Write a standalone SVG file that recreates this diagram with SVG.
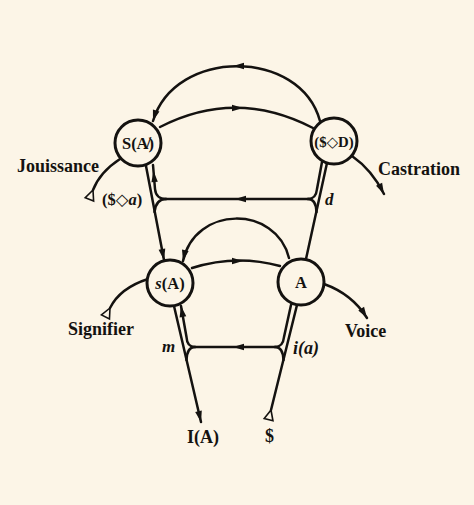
<svg xmlns="http://www.w3.org/2000/svg" xmlns:xlink="http://www.w3.org/1999/xlink" width="474" height="505" viewBox="0 0 474 505">
<style>
.ln{fill:none;stroke:#141210;stroke-width:2.5;stroke-linecap:round}
.nd{fill:#FCF5E7;stroke:#141210;stroke-width:3}
.nl{font-family:"Liberation Serif","DejaVu Serif",serif;font-weight:bold;font-size:16.5px;fill:#141210;text-anchor:middle}
.lb{font-family:"Liberation Serif","DejaVu Serif",serif;font-weight:bold;font-size:18px;fill:#141210}
.it{font-style:italic}
.tri{fill:#FCF5E7;stroke:#141210;stroke-width:1.6;stroke-linejoin:miter}
.ah{fill:#141210}
</style>
<defs>
<marker id="arr" viewBox="-12 -4 13 8" refX="0" refY="0" markerWidth="13" markerHeight="8" orient="auto" markerUnits="userSpaceOnUse">
<path d="M0,0 L-11,-3.4 L-11,3.4 Z" fill="#141210"/>
</marker>
<path id="ah" d="M5,0 L-6,-3.2 L-6,3.2 Z"/>
<path id="tri" d="M0,0 L-4.5,10 L4.5,10 Z"/>
</defs>
<rect width="474" height="505" fill="#FCF5E7"/>
<g id="connectors">
<path class="ln" d="M320 121 C300 48 175 48 153 121" marker-end="url(#arr)"/>
<path class="ln" d="M160 127 Q236 88 313 128"/>
<path class="ln" d="M146 166 L164 260" marker-end="url(#arr)"/>
<path class="ln" d="M327 163 L306 259"/>
<path class="ln" d="M166 199 L308 199"/>
<path class="ln" d="M166 199 Q156 199 155 189 L153 165"/>
<path class="ln" d="M166 199 Q156 199 154.5 212"/>
<path class="ln" d="M308 199 Q316 199 317 189 L322 162"/>
<path class="ln" d="M308 199 Q316 199 316.5 212"/>
<path class="ln" d="M289 258 C276 205 195 205 183 261" marker-end="url(#arr)"/>
<path class="ln" d="M192 268 Q236 254 280 266"/>
<path class="ln" d="M174 306 L201 422" marker-end="url(#arr)"/>
<path class="ln" d="M297 305 L271 410"/>
<path class="ln" d="M195 347 L275 347"/>
<path class="ln" d="M195 347 Q187 347 186.5 337 L181 306" marker-end="url(#arr)"/>
<path class="ln" d="M195 347 Q187 347 186.5 360"/>
<path class="ln" d="M275 347 Q283 347 284 337 L291 305"/>
<path class="ln" d="M275 347 Q283 347 283.5 360"/>
<path class="ln" d="M120 159 Q100 172 93 190"/>
<path class="ln" d="M148 279 Q120 288 110 308"/>
<path class="ln" d="M352 156 Q372 170 384 194" marker-end="url(#arr)"/>
<path class="ln" d="M324 284 Q352 294 367 318" marker-end="url(#arr)"/>
<use xlink:href="#ah" class="ah" transform="translate(238 66) rotate(180)"/>
<use xlink:href="#ah" class="ah" transform="translate(238 108)"/>
<use xlink:href="#ah" class="ah" transform="translate(238 261)"/>
<use xlink:href="#ah" class="ah" transform="translate(240 199) rotate(180)"/>
<use xlink:href="#ah" class="ah" transform="translate(238 347) rotate(180)"/>
<use xlink:href="#ah" class="ah" transform="translate(154 176) rotate(-96)"/>
<use xlink:href="#tri" class="tri" transform="translate(93 190) rotate(21)"/>
<use xlink:href="#tri" class="tri" transform="translate(110 308) rotate(27)"/>
<use xlink:href="#tri" class="tri" transform="translate(271 410) rotate(14)"/>
</g>
<g id="node-SA">
<circle class="nd" cx="138" cy="143" r="23"/>
<text class="nl" x="138" y="149">S(A̸)</text>
</g>
<g id="node-SD">
<circle class="nd" cx="334" cy="141" r="23"/>
<text class="nl" x="334" y="146.5" style="font-size:14.8px">($◇D)</text>
</g>
<g id="node-sA">
<circle class="nd" cx="170" cy="283" r="23"/>
<text class="nl" x="170" y="289"><tspan class="it">s</tspan>(A)</text>
</g>
<g id="node-A">
<circle class="nd" cx="301" cy="282" r="23"/>
<text class="nl" x="301" y="288">A</text>
</g>
<g id="labels">
<text class="lb" x="17" y="172">Jouissance</text>
<text class="lb" x="102" y="205" style="font-size:16.5px">($◇<tspan class="it">a</tspan>)</text>
<text class="lb" x="378" y="175">Castration</text>
<text class="lb it" x="325" y="205" style="font-size:17px">d</text>
<text class="lb it" x="162" y="352" style="font-size:17px">m</text>
<text class="lb" x="68" y="335">Signifier</text>
<text class="lb" x="345" y="337">Voice</text>
<text class="lb it" x="293" y="354" style="font-size:18px">i(a)</text>
<text class="lb" x="187" y="443">I(A)</text>
<text class="lb" x="265" y="442">$</text>
</g>
</svg>
